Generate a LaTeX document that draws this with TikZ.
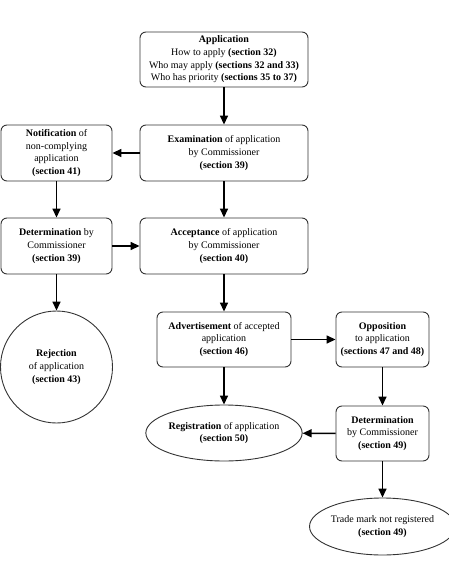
\documentclass[tikz,border=0pt]{standalone}
\usepackage{fontspec}
\setmainfont{Liberation Serif}
\usetikzlibrary{arrows.meta,shapes.geometric}
\begin{document}
\begin{tikzpicture}[x=1pt,y=-1pt,
  every node/.style={font=\fontsize{10}{12.7}\selectfont, align=center, inner sep=0pt},
  box/.style={draw=black!80, line width=0.9pt, rounded corners=6pt},
  oval/.style={draw=black!80, line width=0.9pt, ellipse},
  conn/.style={line width=1.5pt, -{Triangle[length=9pt,width=8pt]}}
]
\useasboundingbox (0,0) rectangle (448,579);
\node[box, minimum width=168pt, minimum height=55pt] (app) at (224,59.5)
  {\textbf{Application}\\How to apply \textbf{(section 32)}\\Who may apply \textbf{(sections 32 and 33)}\\Who has priority \textbf{(sections 35 to 37)}};
\node[box, minimum width=168pt, minimum height=56pt] (exam) at (224,153)
  {\textbf{Examination} of application\\by Commissioner\\\textbf{(section 39)}};
\node[box, minimum width=111pt, minimum height=56pt] (notif) at (56.5,153)
  {\textbf{Notification} of\\non-complying\\application\\\textbf{(section 41)}};
\node[box, minimum width=111pt, minimum height=56pt] (det1) at (56.5,246)
  {\textbf{Determination} by\\Commissioner\\\textbf{(section 39)}};
\node[box, minimum width=168pt, minimum height=56pt] (acc) at (224,246)
  {\textbf{Acceptance} of application\\by Commissioner\\\textbf{(section 40)}};
\node[draw=black!80, line width=0.9pt, circle, minimum size=112pt] (rej) at (56.5,367)
  {\textbf{Rejection}\\of application\\\textbf{(section 43)}};
\node[box, minimum width=134pt, minimum height=55pt] (adv) at (224,339.5)
  {\textbf{Advertisement} of accepted\\application\\\textbf{(section 46)}};
\node[box, minimum width=93pt, minimum height=55pt] (opp) at (382.5,339.5)
  {\textbf{Opposition}\\to application\\\textbf{(sections 47 and 48)}};
\node[oval, minimum width=134pt, minimum height=56pt] (reg) at (224,433)
  {\textbf{Registration} of application\\\textbf{(section 50)}};
\node[box, minimum width=93pt, minimum height=55pt] (det2) at (382.5,433.5)
  {\textbf{Determination}\\by Commissioner\\\textbf{(section 49)}};
\node[oval, minimum width=130pt, minimum height=57pt] (tm) at (382.5,526.5)
  {Trade mark not registered\\\textbf{(section 49)}};
\draw[conn] (app) -- (exam);
\draw[conn] (exam) -- (notif);
\draw[conn] (notif) -- (det1);
\draw[conn] (exam) -- (acc);
\draw[conn] (det1) -- (acc);
\draw[conn] (det1) -- (rej);
\draw[conn] (acc) -- (adv);
\draw[conn] (adv) -- (opp);
\draw[conn] (adv) -- (reg);
\draw[conn] (opp) -- (det2);
\draw[conn] (det2) -- (reg);
\draw[conn] (det2) -- (tm);
\end{tikzpicture}
\end{document}
